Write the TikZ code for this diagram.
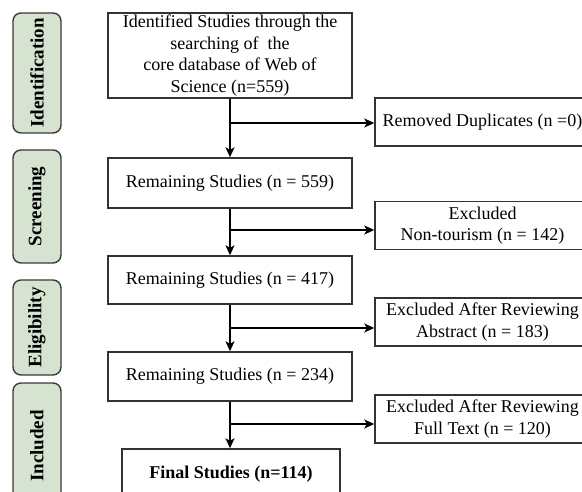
\documentclass[tikz,border=0pt]{standalone}
\usepackage{fontspec}
\setmainfont{Liberation Serif}
\usetikzlibrary{arrows.meta, positioning}
\definecolor{stageFill}{HTML}{D5E3D0}
\definecolor{stageLine}{HTML}{3A3A3A}
\definecolor{boxLine}{HTML}{333333}
\tikzset{
  flowline/.style  = {line width=1.3pt, black},
  flowarrow/.style = {flowline, -{Stealth[length=10pt, width=9pt, inset=2.5pt]}},
  mainbox/.style   = {draw=boxLine, line width=1.4pt, minimum width=244pt,
                      align=center, inner sep=2pt,
                      font=\fontsize{18}{21.5}\selectfont},
  sidebox/.style   = {mainbox, minimum width=215pt, minimum height=48pt},
  stagebox/.style  = {draw=stageLine, fill=stageFill, line width=1.4pt,
                      rounded corners=8pt, rotate=90, minimum height=48pt,
                      font=\fontsize{19}{21}\selectfont\bfseries},
}
\begin{document}
\begin{tikzpicture}[x=1pt, y=-1pt]
  \useasboundingbox (0,0) rectangle (582,492);
  % stage labels on the left
  \node[stagebox, minimum width=120pt] (stgIdent) at (37,73)    {Identification};
  \node[stagebox, minimum width=113pt] (stgScreen) at (37,206.5) {Screening};
  \node[stagebox, minimum width=95pt]  (stgElig) at (37,327.5)  {Eligibility};
  \node[stagebox, minimum width=126pt] (stgIncl) at (37,446)    {Included};
  % main column
  \node[mainbox, minimum height=85pt] (ident) at (230,55.5)
    {Identified Studies through the\\searching of\ \ the\\core database of Web of\\Science (n=559)};
  \node[mainbox, minimum height=50pt] (remA) at (230,183)   {Remaining Studies (n = 559)};
  \node[mainbox, minimum height=48pt] (remB) at (230,280)   {Remaining Studies (n = 417)};
  \node[mainbox, minimum height=49pt] (remC) at (230,376.5) {Remaining Studies (n = 234)};
  \node[mainbox, minimum width=218pt, minimum height=50pt,
        font=\fontsize{18}{21.5}\selectfont\bfseries] (final) at (231,474) {Final Studies (n=114)};
  % removed records on the right
  \node[sidebox] (dup)  at (482.5,122)   {Removed Duplicates (n =0)};
  \node[sidebox] (excA) at (482.5,225.5) {Excluded\\Non-tourism (n = 142)};
  \node[sidebox] (excB) at (482.5,322)   {Excluded After Reviewing\\Abstract (n = 183)};
  \node[sidebox] (excC) at (482.5,419)   {Excluded After Reviewing\\Full Text (n = 120)};
  % downward flow
  \draw[flowarrow] (ident.south) -- (remA.north);
  \draw[flowarrow] (remA.south) -- (remB.north);
  \draw[flowarrow] (remB.south) -- (remC.north);
  \draw[flowarrow] (remC.south) -- (final.north -| remC.south);
  % branches to the exclusions
  \coordinate (brA) at (230,123);
  \coordinate (brB) at (230,230);
  \coordinate (brC) at (230,328);
  \coordinate (brD) at (230,424);
  \draw[flowarrow] (brA) -- (brA -| dup.west);
  \draw[flowarrow] (brB) -- (brB -| excA.west);
  \draw[flowarrow] (brC) -- (brC -| excB.west);
  \draw[flowarrow] (brD) -- (brD -| excC.west);
\end{tikzpicture}
\end{document}
